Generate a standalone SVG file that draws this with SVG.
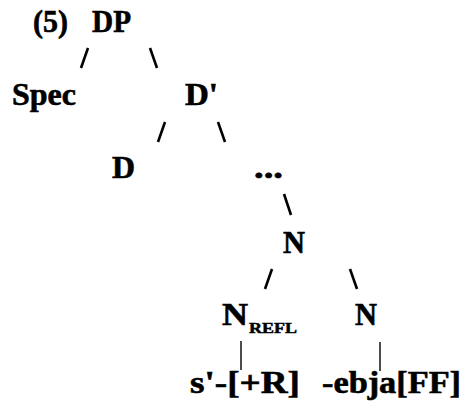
<svg xmlns="http://www.w3.org/2000/svg" width="464" height="409" viewBox="0 0 464 409">
  <style>
    .lbl { font-family: "Liberation Serif", "Times New Roman", serif; font-weight: bold; font-size: 31px; fill: #000; stroke: #000; stroke-width: 0.6; }
    .sub { font-size: 15px; stroke-width: 0.5; }
    .edge { stroke: #000; stroke-width: 2.6; stroke-linecap: butt; fill: none; }
    .stem { stroke: #000; stroke-width: 1.4; fill: none; }
  </style>
  <rect width="464" height="409" fill="#fff"/>

  <!-- branch marks -->
  <g id="connectors">
    <line class="edge" x1="88" y1="48" x2="81" y2="68"/>
    <line class="edge" x1="150" y1="48" x2="157" y2="68"/>
    <line class="edge" x1="165" y1="122" x2="158" y2="142"/>
    <line class="edge" x1="218" y1="122" x2="225" y2="142"/>
    <line class="edge" x1="284" y1="194" x2="291" y2="215"/>
    <line class="edge" x1="272" y1="269" x2="265" y2="289"/>
    <line class="edge" x1="350" y1="269" x2="357" y2="289"/>
    <line class="stem" x1="241" y1="341" x2="241" y2="370"/>
    <line class="stem" x1="380" y1="342" x2="380" y2="371"/>
  </g>

  <g id="example-number">
    <text class="lbl" x="33" y="32" textLength="35" lengthAdjust="spacingAndGlyphs">(5)</text>
  </g>
  <g id="node-DP">
    <text class="lbl" x="92" y="32" textLength="39" lengthAdjust="spacingAndGlyphs">DP</text>
  </g>
  <g id="node-Spec">
    <text class="lbl" x="12" y="105" textLength="64" lengthAdjust="spacingAndGlyphs">Spec</text>
  </g>
  <g id="node-Dbar">
    <text class="lbl" x="185" y="105" textLength="33" lengthAdjust="spacingAndGlyphs">D'</text>
  </g>
  <g id="node-D">
    <text class="lbl" x="112" y="178" textLength="23" lengthAdjust="spacingAndGlyphs">D</text>
  </g>
  <g id="node-ellipsis">
    <text class="lbl" x="254" y="178" textLength="29" lengthAdjust="spacingAndGlyphs">...</text>
  </g>
  <g id="node-N">
    <text class="lbl" x="283" y="253" textLength="22" lengthAdjust="spacingAndGlyphs">N</text>
  </g>
  <g id="node-N-refl">
    <text class="lbl" x="222" y="325"><tspan textLength="26" lengthAdjust="spacingAndGlyphs">N</tspan><tspan class="sub" x="249" y="333" textLength="48" lengthAdjust="spacingAndGlyphs">REFL</tspan></text>
  </g>
  <g id="node-N-right">
    <text class="lbl" x="355" y="325" textLength="22" lengthAdjust="spacingAndGlyphs">N</text>
  </g>
  <g id="leaf-s">
    <text class="lbl" x="190" y="393" textLength="110" lengthAdjust="spacingAndGlyphs">s'-[+R]</text>
  </g>
  <g id="leaf-ebja">
    <text class="lbl" x="322" y="393" textLength="139" lengthAdjust="spacingAndGlyphs">-ebja[FF]</text>
  </g>
</svg>
